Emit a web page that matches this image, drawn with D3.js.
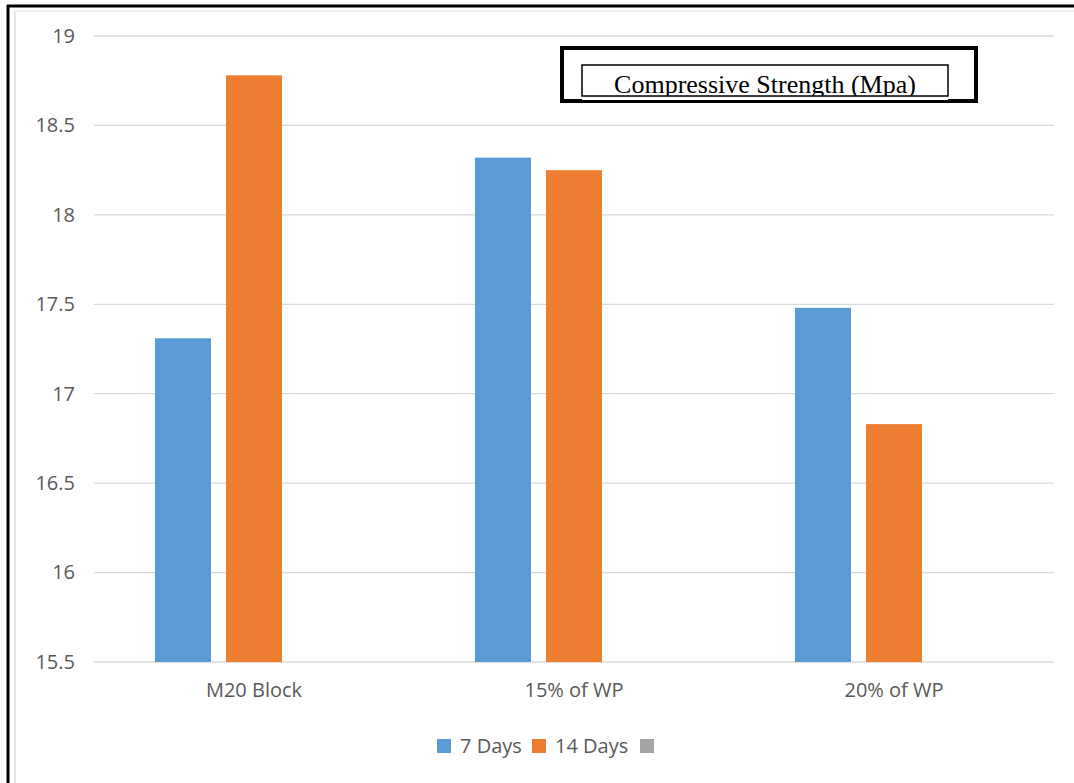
<!DOCTYPE html>
<meta charset="utf-8">
<head>
<script src="https://d3js.org/d3.v7.min.js"></script>
<style>
  body { margin: 0; background: #fff; }
  svg { display: block; }
</style>
</head>
<body>
<div id="chart"></div>
<script>
  var categories = ["M20 Block", "15% of WP", "20% of WP"];
  var seriesNames = ["7 Days", "14 Days", ""];
  var seriesColors = ["#5b9bd5", "#ed7d31", "#a5a5a5"];
  var days7 = [17.31, 18.32, 17.48];
  var days14 = [18.78, 18.25, 16.83];
  var blank = [null, null, null];
  var yTicks = [15.5, 16, 16.5, 17, 17.5, 18, 18.5, 19];
  var title = "Compressive Strength (Mpa)";

  var width = 1074, height = 783;
  var plotLeft = 94, plotRight = 1054, plotTop = 36, plotBottom = 662;
  var tickFont = "'Open Sans', sans-serif";

  var svg = d3.select("#chart").append("svg")
    .attr("width", width)
    .attr("height", height);

  // outer frame (only top and left show in the picture)
  svg.append("line").attr("x1", 7).attr("x2", width).attr("y1", 6).attr("y2", 6)
    .attr("stroke", "#000").attr("stroke-width", 3);
  svg.append("line").attr("x1", 8).attr("x2", 8).attr("y1", 5).attr("y2", height)
    .attr("stroke", "#000").attr("stroke-width", 3);
  // faint chart area border
  svg.append("line").attr("x1", 15).attr("x2", 15).attr("y1", 11).attr("y2", height)
    .attr("stroke", "#e6e6e6").attr("stroke-width", 2);
  svg.append("line").attr("x1", 15).attr("x2", width).attr("y1", 11).attr("y2", 11)
    .attr("stroke", "#eeeeee").attr("stroke-width", 2);

  var y = d3.scaleLinear().domain([15.5, 19]).range([plotBottom, plotTop]);
  var x0 = d3.scaleBand().domain(categories).range([plotLeft, plotRight]);
  var x1 = d3.scaleBand().domain([0, 1, 2]).range([0, x0.bandwidth()])
    .paddingInner(15 / 71).paddingOuter(0.859);

  // gridlines
  svg.append("g").selectAll("line")
    .data(yTicks)
    .enter().append("line")
    .attr("x1", plotLeft).attr("x2", plotRight)
    .attr("y1", function(d) { return y(d); })
    .attr("y2", function(d) { return y(d); })
    .attr("stroke", "#d9d9d9")
    .attr("stroke-width", 1.3);

  // y axis labels
  var yAxis = svg.append("g")
    .attr("transform", "translate(" + (plotLeft - 16) + ",0)")
    .call(d3.axisLeft(y).tickValues(yTicks).tickSize(0).tickFormat(d3.format("")));
  yAxis.select(".domain").remove();
  yAxis.selectAll("text")
    .attr("font-family", tickFont)
    .attr("font-size", 20)
    .attr("fill", "#595959");

  // bars
  var series = [days7, days14, blank];
  var groups = svg.append("g").selectAll("g")
    .data(categories)
    .enter().append("g")
    .attr("transform", function(d) { return "translate(" + x0(d) + ",0)"; });

  groups.selectAll("rect")
    .data(function(d, i) {
      return series.map(function(s, j) { return { s: j, v: s[i] }; })
        .filter(function(e) { return e.v != null; });
    })
    .enter().append("rect")
    .attr("x", function(d) { return x1(d.s); })
    .attr("width", x1.bandwidth())
    .attr("y", function(d) { return y(d.v); })
    .attr("height", function(d) { return plotBottom - y(d.v); })
    .attr("fill", function(d) { return seriesColors[d.s]; });

  // x axis labels
  var xAxis = svg.append("g")
    .attr("transform", "translate(0," + plotBottom + ")")
    .call(d3.axisBottom(x0).tickSize(0).tickPadding(21));
  xAxis.select(".domain").remove();
  xAxis.selectAll("text")
    .attr("font-family", tickFont)
    .attr("font-size", 20)
    .attr("fill", "#595959");

  // legend
  var legendX = [437, 532, 640];
  var legend = svg.append("g").selectAll("g")
    .data(seriesNames)
    .enter().append("g")
    .attr("transform", function(d, i) { return "translate(" + legendX[i] + ",739)"; });
  legend.append("rect")
    .attr("width", 14).attr("height", 14)
    .attr("fill", function(d, i) { return seriesColors[i]; });
  legend.append("text")
    .attr("x", 23).attr("y", 14)
    .attr("font-family", tickFont)
    .attr("font-size", 20)
    .attr("fill", "#595959")
    .text(function(d) { return d; });

  // title boxes
  svg.append("rect")
    .attr("x", 562).attr("y", 48).attr("width", 414).attr("height", 53)
    .attr("fill", "#fff").attr("stroke", "#000").attr("stroke-width", 4);
  svg.append("text")
    .attr("x", 765).attr("y", 93)
    .attr("text-anchor", "middle")
    .attr("font-family", "'Liberation Serif', 'Times New Roman', serif")
    .attr("font-size", 26)
    .attr("fill", "#000")
    .text(title);
  // inner box drawn over the text so the descenders get cut, as in the picture
  svg.append("rect")
    .attr("x", 582).attr("y", 96).attr("width", 366).attr("height", 4)
    .attr("fill", "#fff");
  svg.append("rect")
    .attr("x", 582).attr("y", 65).attr("width", 366).attr("height", 31)
    .attr("fill", "none").attr("stroke", "#000").attr("stroke-width", 1.5);
</script>
</body>
